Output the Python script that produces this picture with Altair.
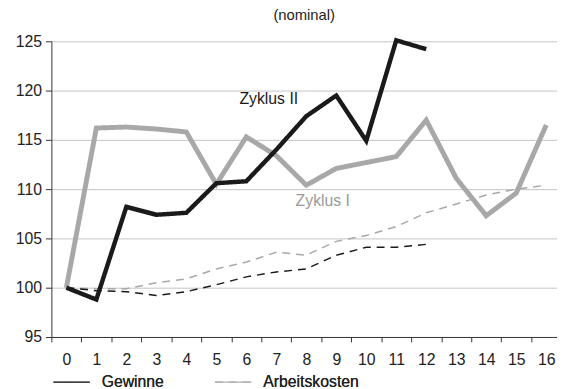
import altair as alt
import pandas as pd

# ---- data ----
x_vals = list(range(17))
gewinne_I = [100, 116.2, 116.3, 116.1, 115.8, 110.5, 115.3, 113.4, 110.4, 112.1,
             112.7, 113.3, 117.0, 111.1, 107.3, 109.6, 116.5]
gewinne_II = [100, 98.8, 108.2, 107.4, 107.6, 110.6, 110.8, 114.0, 117.4, 119.5,
              114.9, 125.1, 124.2]
arbeit_I = [100, 99.9, 99.9, 100.5, 100.9, 101.9, 102.6, 103.6, 103.3, 104.7,
            105.3, 106.2, 107.6, 108.5, 109.4, 110.0, 110.4]
arbeit_II = [100, 99.7, 99.6, 99.2, 99.6, 100.3, 101.1, 101.6, 101.9, 103.3,
             104.1, 104.1, 104.4]

label_text = ["Zyklus II", "Zyklus I"]
label_x = [6.75, 8.55]
label_y = [119.1, 108.8]
label_color = ["#1a1a1a", "#9a9a9a"]

y_ticks = [95, 100, 105, 110, 115, 120, 125]
legend_types = ["Gewinne", "Arbeitskosten"]

FONT = "Liberation Sans"

xscale = alt.Scale(domain=[-0.5, 16.36], nice=False, zero=False)
yscale = alt.Scale(domain=[95, 125], nice=False, zero=False)

x_axis = alt.Axis(values=x_vals, title=None, grid=False, tickOffset=-15.2,
                  labelOffset=15.2, tickSize=5, labelPadding=10, labelFlush=False,
                  labelOverlap=False, labelFontSize=16, labelColor="#222",
                  domainColor="#333", tickColor="#333", labelFont=FONT)
y_axis = alt.Axis(values=y_ticks, title=None, grid=True, gridColor="#c4c4c4",
                  tickSize=6, labelPadding=4, labelFontSize=16, labelColor="#222",
                  domainColor="#333", tickColor="#333", labelFont=FONT)

dash_scale = alt.Scale(domain=legend_types, range=[[1, 0], [8, 6]])
color_scale = alt.Scale(domain=legend_types, range=["#1a1a1a", "#b0b0b0"])
legend = alt.Legend(
    title=None, orient="none", direction="horizontal", legendX=1, legendY=326,
    symbolType="stroke", symbolSize=1369, symbolStrokeWidth=1.2,
    labelFontSize=16, labelColor="#222", labelFont=FONT, labelOffset=11,
    columnPadding=48,
)


def series_layer(vals, typ, color, width):
    d = pd.DataFrame({"x": x_vals[:len(vals)], "v": vals, "Typ": typ})
    return alt.Chart(d).mark_line(color=color, strokeWidth=width, strokeJoin="miter",
                                  strokeCap="butt").encode(
        x=alt.X("x:Q", scale=xscale, axis=x_axis),
        y=alt.Y("v:Q", scale=yscale, axis=y_axis),
        strokeDash=alt.StrokeDash("Typ:N", scale=dash_scale, legend=legend),
    )


l_ak1 = series_layer(arbeit_I, "Arbeitskosten", "#a8a8a8", 1.5)
l_ak2 = series_layer(arbeit_II, "Arbeitskosten", "#1a1a1a", 1.5)
l_g1 = series_layer(gewinne_I, "Gewinne", "#a8a8a8", 5)
l_g2 = series_layer(gewinne_II, "Gewinne", "#1a1a1a", 4.5)

# legend-only layer (filtered empty) that supplies the legend symbol colours
leg_df = pd.DataFrame({"x": [0, 0], "v": [100, 100], "Typ": legend_types})
l_leg = alt.Chart(leg_df).mark_line().encode(
    x=alt.X("x:Q", scale=xscale, axis=x_axis),
    y=alt.Y("v:Q", scale=yscale, axis=y_axis),
    strokeDash=alt.StrokeDash("Typ:N", scale=dash_scale, legend=legend),
    color=alt.Color("Typ:N", scale=color_scale, legend=legend),
).transform_filter("datum.x < -100")

labels = pd.DataFrame({"t": label_text, "x": label_x, "y": label_y, "c": label_color})
text = alt.Chart(labels).mark_text(fontSize=16, font=FONT, align="center",
                                   baseline="middle").encode(
    x=alt.X("x:Q", scale=xscale, axis=x_axis),
    y=alt.Y("y:Q", scale=yscale, axis=y_axis),
    color=alt.Color("c:N", scale=None, legend=None),
    text="t:N",
)

chart = alt.layer(l_leg, l_ak1, l_ak2, l_g1, l_g2, text).properties(
    width=513, height=300,
    title=alt.TitleParams("(nominal)", fontSize=15, fontWeight="normal", font=FONT,
                          color="#222", offset=9, anchor="middle"),
    autosize=alt.AutoSizeParams(type="none"),
    padding={"left": 44, "top": 31, "right": 0, "bottom": 50},
).configure_view(stroke=None).resolve_scale(color="independent")

chart.save("out.html", embed_options={"renderer": "svg", "actions": False})
